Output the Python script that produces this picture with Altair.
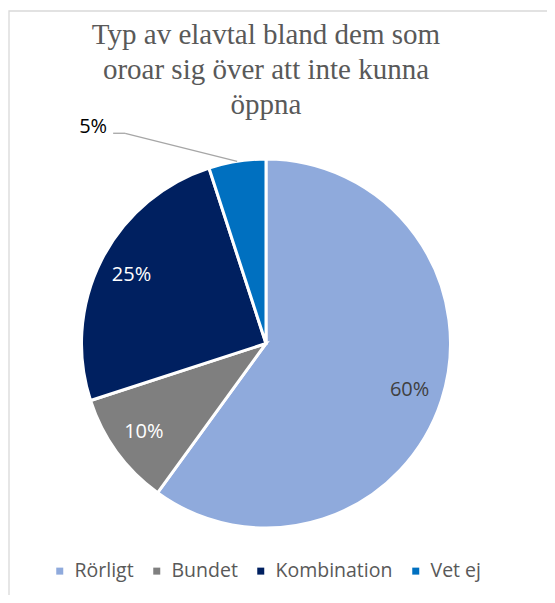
import altair as alt
import pandas as pd
import numpy as np

# ---- data ----
categories = ["Rörligt", "Bundet", "Kombination", "Vet ej"]
values = [60, 10, 25, 5]
colors = ["#8FAADC", "#7F7F7F", "#002060", "#0070C0"]
label_colors = ["#404040", "#FFFFFF", "#FFFFFF", "#000000"]
inside = [True, True, True, False]
title_lines = ["Typ av elavtal bland dem som", "oroar sig över att inte kunna", "öppna"]

labels = [f"{v}%" for v in values]
df = pd.DataFrame({
    "kategori": categories,
    "andel": values,
    "ordning": list(range(len(categories))),
    "inner": [l if i else "" for l, i in zip(labels, inside)],
    "outer": [l if not i else "" for l, i in zip(labels, inside)],
    "lc": label_colors,
})
title_df = pd.DataFrame({"t": ["\n".join(title_lines)]})

# ---- geometry (view coordinates) ----
W, H = 539, 587
CX, CY, R = 258, 335.5, 184.5

theta = alt.Theta("andel:Q", stack=True)
order = alt.Order("ordning:Q")
base = alt.Chart(df)

arc = base.mark_arc(stroke="white", strokeWidth=3, radius=R).encode(
    theta=theta,
    order=order,
    x=alt.value(CX),
    y=alt.value(CY),
    color=alt.Color(
        "kategori:N",
        sort=categories,
        scale=alt.Scale(domain=categories, range=colors),
        legend=alt.Legend(
            title=None,
            orient="none",
            direction="horizontal",
            legendX=42,
            legendY=553,
            padding=0,
            symbolType="square",
            symbolSize=49,
            symbolStrokeWidth=0,
            labelFont="Open Sans",
            labelFontSize=19.5,
            labelColor="#595959",
            columnPadding=13,
            labelOffset=5,
        ),
    ),
)

inner_text = base.mark_text(radius=151, font="Open Sans", fontSize=20).encode(
    theta=theta,
    order=order,
    x=alt.value(CX),
    y=alt.value(CY),
    text="inner:N",
    color=alt.Color("lc:N", scale=None),
)

outer_text = base.mark_text(radius=R, dx=-144, dy=-34, font="Open Sans", fontSize=20).encode(
    theta=theta,
    order=order,
    x=alt.value(CX),
    y=alt.value(CY),
    text="outer:N",
    color=alt.Color("lc:N", scale=None),
)

# leader line for the outside label, from the slice's mid angle on the rim
total = sum(values)
idx = inside.index(False)
mid = (sum(values[:idx]) + values[idx] / 2) / total * 2 * np.pi
ex, ey = CX + R * np.sin(mid), CY - R * np.cos(mid)
kx, ky = ex - 112, ey - 28
lead1 = alt.Chart(df.head(1)).mark_rule(color="#A6A6A6", strokeWidth=1.3).encode(
    x=alt.value(float(ex)), y=alt.value(float(ey)), x2=alt.value(float(kx)), y2=alt.value(float(ky))
)
lead2 = alt.Chart(df.head(1)).mark_rule(color="#A6A6A6", strokeWidth=1.3).encode(
    x=alt.value(float(kx)), y=alt.value(float(ky)), x2=alt.value(float(kx - 12)), y2=alt.value(float(ky))
)

frame = alt.Chart(df.head(1)).mark_rect(fill=None, stroke="#D9D9D9", strokeWidth=1.3).encode(
    x=alt.value(1), y=alt.value(3), x2=alt.value(700), y2=alt.value(700)
)

title = alt.Chart(title_df).mark_text(
    font="'Liberation Serif', 'DejaVu Serif', serif",
    fontSize=29,
    color="#595959",
    align="center",
    baseline="alphabetic",
    lineBreak="\n",
    lineHeight=35,
).encode(text="t:N", x=alt.value(258), y=alt.value(36))

chart = alt.layer(frame, title, arc, inner_text, outer_text, lead1, lead2).properties(
    width=W,
    height=H,
    autosize=alt.AutoSizeParams(type="none"),
    padding=0,
).configure_view(stroke=None)

chart.save("out.html", embed_options={"renderer": "svg", "actions": False})
